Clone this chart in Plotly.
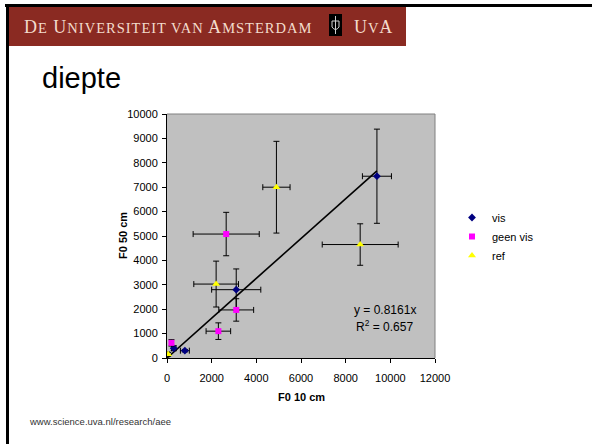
import plotly.graph_objects as go

# ---- data ----
vis_x = [9400, 3100, 300, 800]
vis_y = [7450, 2800, 400, 300]
vis_xerr = [650, 1100, 100, 200]
vis_yerr = [1930, 850, 100, 50]

geen_x = [2650, 3100, 2300, 200]
geen_y = [5080, 1970, 1100, 620]
geen_xerr = [1480, 780, 550, 80]
geen_yerr = [890, 460, 340, 130]

ref_x = [4900, 8650, 2200, 50]
ref_y = [7000, 4650, 3030, 150]
ref_xerr = [610, 1700, 1000, 50]
ref_yerr = [1880, 850, 940, 80]

slope = 0.8161
r2 = 0.657
trend_x = [0, 9400]
trend_y = [slope * v for v in trend_x]

x_ticks = [0, 2000, 4000, 6000, 8000, 10000, 12000]
x_labels = ["0", "2000", "4000", "6000", "8000", "10000", "12000"]
y_ticks = [0, 1000, 2000, 3000, 4000, 5000, 6000, 7000, 8000, 9000, 10000]
y_labels = ["0", "1000", "2000", "3000", "4000", "5000", "6000", "7000", "8000", "9000", "10000"]

W, H = 592, 444
L, R, T, B = 167, 157, 114, 86
PW, PH = W - L - R, H - T - B


def px(x):
    return (x - L) / PW


def py(y):
    return (H - B - y) / PH


fig = go.Figure()

fig.add_trace(go.Scatter(
    x=trend_x, y=trend_y, mode="lines", line=dict(color="black", width=1.6),
    showlegend=False, hoverinfo="skip"))

err_style = dict(color="black", thickness=1, width=3)

fig.add_trace(go.Scatter(
    x=vis_x, y=vis_y, mode="markers", name="vis",
    marker=dict(symbol="diamond", size=6, color="#000080"),
    error_x=dict(type="data", array=vis_xerr, **err_style),
    error_y=dict(type="data", array=vis_yerr, **err_style)))
fig.add_trace(go.Scatter(
    x=geen_x, y=geen_y, mode="markers", name="geen vis",
    marker=dict(symbol="square", size=6, color="#FF00FF"),
    error_x=dict(type="data", array=geen_xerr, **err_style),
    error_y=dict(type="data", array=geen_yerr, **err_style)))
fig.add_trace(go.Scatter(
    x=ref_x, y=ref_y, mode="markers", name="ref",
    marker=dict(symbol="triangle-up", size=7, color="#FFFF00"),
    error_x=dict(type="data", array=ref_xerr, **err_style),
    error_y=dict(type="data", array=ref_yerr, **err_style)))

axis_font = dict(family="Liberation Sans, Arial", size=11, color="black")

fig.update_layout(
    width=W, height=H,
    margin=dict(l=L, r=R, t=T, b=B, pad=0, autoexpand=False),
    paper_bgcolor="white", plot_bgcolor="#C0C0C0",
    font=axis_font,
    showlegend=True,
    legend=dict(x=px(452), y=py(203), xanchor="left", yanchor="top",
                bgcolor="rgba(0,0,0,0)", font=dict(size=11),
                itemwidth=30, tracegroupgap=0),
    xaxis=dict(range=[0, 12000], tickvals=x_ticks, ticktext=x_labels,
               showgrid=False, zeroline=False, automargin=False,
               showline=True, linecolor="black", linewidth=1,
               ticks="outside", ticklen=4, tickcolor="black",
               tickfont=axis_font, ticklabelstandoff=6),
    yaxis=dict(range=[0, 10000], tickvals=y_ticks, ticktext=y_labels,
               showgrid=False, zeroline=False, automargin=False,
               showline=True, linecolor="black", linewidth=1,
               ticks="outside", ticklen=4, tickcolor="black",
               tickfont=axis_font, ticklabelstandoff=2),
)

shapes = []
# plot area gray border top / right
shapes.append(dict(type="line", xref="paper", yref="paper", x0=0, x1=1, y0=1, y1=1,
                   line=dict(color="#808080", width=1)))
shapes.append(dict(type="line", xref="paper", yref="paper", x0=1, x1=1, y0=0, y1=1,
                   line=dict(color="#808080", width=1)))
# slide borders
shapes.append(dict(type="rect", xref="paper", yref="paper",
                   x0=px(5), x1=px(W + 2), y0=py(7), y1=py(4),
                   fillcolor="black", line=dict(width=0)))
shapes.append(dict(type="rect", xref="paper", yref="paper",
                   x0=px(6), x1=px(9), y0=py(H + 2), y1=py(4),
                   fillcolor="black", line=dict(width=0)))
# banner
shapes.append(dict(type="rect", xref="paper", yref="paper",
                   x0=px(9), x1=px(406), y0=py(46), y1=py(7),
                   fillcolor="#8A2A22", line=dict(width=0), layer="below"))
# logo
shapes.append(dict(type="rect", xref="paper", yref="paper",
                   x0=px(329), x1=px(342), y0=py(36), y1=py(14),
                   fillcolor="black", line=dict(width=0)))
shapes.append(dict(type="path", xref="paper", yref="paper",
                   path=(f"M {px(332)} {py(21)} L {px(339)} {py(21)} L {px(339)} {py(27)} "
                         f"Q {px(335.5)} {py(32)} {px(332)} {py(27)} Z"),
                   fillcolor="rgba(0,0,0,0)", line=dict(color="#cfcfcf", width=1)))
shapes.append(dict(type="line", xref="paper", yref="paper",
                   x0=px(335.5), x1=px(335.5), y0=py(34), y1=py(16),
                   line=dict(color="#cfcfcf", width=1)))
fig.update_layout(shapes=shapes)

banner_color = "#F3DCCD"
sc = "font-size:14.5px"
banner_text = (f"<span style='letter-spacing:1px'>D<span style='{sc}'>E</span> "
               f"U<span style='{sc}'>NIVERSITEIT VAN</span> "
               f"A<span style='{sc}'>MSTERDAM</span></span>")
annotations = [
    dict(text=banner_text, xref="paper", yref="paper", x=px(22), y=py(27),
         xanchor="left", yanchor="middle", showarrow=False,
         font=dict(family="Liberation Serif", size=18, color=banner_color)),
    dict(text=f"<span style='letter-spacing:0.9px'>U<span style='{sc}'>V</span>A</span>",
         xref="paper", yref="paper", x=px(352), y=py(27),
         xanchor="left", yanchor="middle", showarrow=False,
         font=dict(family="Liberation Serif", size=18, color=banner_color)),
    dict(text="diepte", xref="paper", yref="paper", x=px(40), y=py(78),
         xanchor="left", yanchor="middle", showarrow=False,
         font=dict(family="Liberation Sans, Arial", size=29, color="black")),
    dict(text="www.science.uva.nl/research/aee", xref="paper", yref="paper",
         x=px(27), y=py(421), xanchor="left", yanchor="middle", showarrow=False,
         font=dict(family="Liberation Sans, Arial", size=9.5, color="#333333")),
    dict(text="<b>F0 50 cm</b>", xref="paper", yref="paper", x=px(123), y=0.5,
         xanchor="center", yanchor="middle", showarrow=False, textangle=-90,
         font=dict(family="Liberation Sans, Arial", size=11, color="black")),
    dict(text="<b>F0 10 cm</b>", xref="paper", yref="paper", x=0.5, y=py(397),
         xanchor="center", yanchor="middle", showarrow=False,
         font=dict(family="Liberation Sans, Arial", size=11, color="black")),
    dict(text=f"y = {slope}x", xref="x", yref="y", x=9750, y=1950,
         xanchor="center", yanchor="middle", showarrow=False,
         font=dict(family="Liberation Sans, Arial", size=12, color="black")),
    dict(text=f"R<sup>2</sup> = {r2}", xref="x", yref="y", x=9750, y=1300,
         xanchor="center", yanchor="middle", showarrow=False,
         font=dict(family="Liberation Sans, Arial", size=12, color="black")),
]
fig.update_layout(annotations=annotations)

fig.write_html("out.html", config={"displayModeBar": False},
               post_script="document.body.style.margin='0';document.body.style.overflow='hidden';")
